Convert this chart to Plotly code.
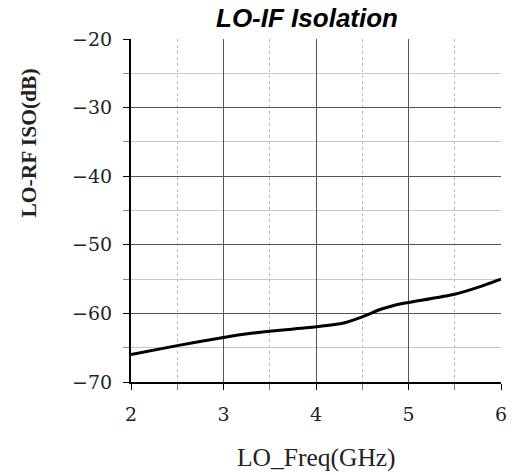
import plotly.graph_objects as go

freq_ghz = [2.0, 2.5, 3.0, 3.3, 3.5, 4.0, 4.3, 4.5, 4.7, 4.85, 5.0, 5.5, 5.75, 6.0]
iso_db = [-66.0, -64.7, -63.5, -62.9, -62.6, -61.95, -61.4, -60.5, -59.4, -58.8, -58.4, -57.2, -56.2, -55.0]

title_text = "LO-IF Isolation"
x_title = "LO_Freq(GHz)"
y_title = "LO-RF ISO(dB)"

serif = "Liberation Serif"

fig = go.Figure()
fig.add_trace(go.Scatter(x=freq_ghz, y=iso_db, mode="lines",
                         line=dict(color="black", width=3, shape="spline", smoothing=0.6),
                         showlegend=False))

fig.update_layout(
    width=518, height=475,
    margin=dict(l=131, r=11, t=39, b=93),
    paper_bgcolor="white", plot_bgcolor="white",
    font=dict(family=serif, size=22, color="#222"),
)
fig.add_annotation(text="<b><i>" + title_text + "</i></b>", xref="paper", yref="paper",
                   x=0.476, y=1.061, xanchor="center", yanchor="middle", showarrow=False,
                   font=dict(family="Liberation Sans", size=26, color="black"))
fig.add_annotation(text=x_title, xref="paper", yref="paper",
                   x=0.5, y=-0.219, xanchor="center", yanchor="middle", showarrow=False,
                   font=dict(family=serif, size=25.5, color="#222"))
fig.add_annotation(text="<b>" + y_title + "</b>", xref="paper", yref="paper",
                   x=-0.2766, y=0.697, xanchor="center", yanchor="middle", showarrow=False,
                   textangle=-90,
                   font=dict(family=serif, size=21.5, color="#222"))
fig.update_xaxes(
    range=[2, 6], dtick=1, tick0=2,
    showline=True, linecolor="black", linewidth=2,
    ticks="outside", ticklen=6, tickcolor="black", tickwidth=1,
    showgrid=True, gridcolor="#555", gridwidth=1,
    minor=dict(dtick=0.5, tick0=2, ticks="outside", ticklen=6, tickcolor="#777",
               showgrid=True, gridcolor="#b8b8b8", griddash="dot", gridwidth=1),
    tickfont=dict(family="DejaVu Serif", size=19, color="#222"),
    ticklabelstandoff=8,
    zeroline=False,
)
fig.update_yaxes(
    range=[-70, -20], dtick=10, tick0=-70,
    showline=True, linecolor="black", linewidth=2,
    ticks="outside", ticklen=6, tickcolor="black", tickwidth=1,
    showgrid=True, gridcolor="#555", gridwidth=1,
    minor=dict(dtick=5, tick0=-70, ticks="outside", ticklen=6, tickcolor="#888",
               showgrid=True, gridcolor="#c8c8c8", gridwidth=1),
    tickfont=dict(family="DejaVu Serif", size=19, color="#222"),
    ticklabelstandoff=7,
    zeroline=False,
)
fig.write_html("out.html")
